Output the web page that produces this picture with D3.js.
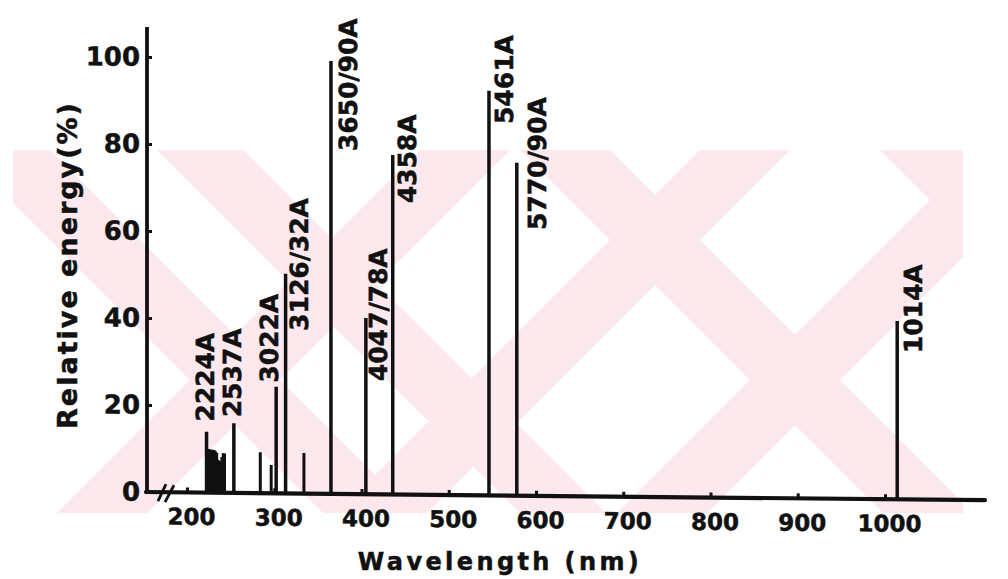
<!DOCTYPE html>
<html>
<head>
<meta charset="utf-8">
<script src="https://cdn.jsdelivr.net/npm/d3@7"></script>
<style>
  html, body { margin: 0; padding: 0; background: #ffffff; }
  svg { display: block; }
  text { font-family: "DejaVu Sans", sans-serif; font-weight: bold; fill: #111; stroke: #111; stroke-width: 0.5px; }
</style>
</head>
<body>
<svg id="chart" width="1008" height="579"></svg>
<script>
// Mercury lamp emission spectrum: labelled lines (wavelength in nm, relative energy in %)
const lineLabels      = ["2224A", "2537A", "3022A", "3126/32A", "3650/90A", "4047/78A", "4358A", "5461A", "5770/90A", "1014A"];
const lineWavelengths = [222.4, 253.7, 302.2, 313.0, 365.0, 405.0, 435.8, 546.1, 578.0, 1014.0];
const lineEnergies    = [14, 16, 24.5, 50.5, 99.5, 40.5, 78, 93, 76.5, 41];

// weaker, unlabelled lines (the dense group after 2224A and a few isolated ones)
const minorWavelengths = [225, 226.5, 228, 229.5, 231, 232.5, 234, 235.5, 237, 238.5, 240, 241.5, 243, 284, 296.5, 334];
const minorEnergies    = [10, 9.8, 9.9, 9.6, 9.8, 9.5, 9.2, 7.6, 7.3, 7.2, 8.2, 9.1, 9.0, 9.4, 6.5, 9.3];

// axis ticks
const xTickValues = [200, 300, 400, 500, 600, 700, 800, 900, 1000];
const yTickValues = [0, 20, 40, 60, 80, 100];

// label placement next to each line top: [dx, dy] in px (dy measured from the top of the line, text runs upward)
const labelPlacement = {
  "2224A": [-2, -10], "2537A": [-2, -6], "3022A": [-7, -4], "3126/32A": [13, 57],
  "3650/90A": [17, 90], "4047/78A": [12, 63], "4358A": [14, 48], "5461A": [15, 33],
  "5770/90A": [20, 67], "1014A": [16, 32]
};

const svg = d3.select("#chart");
const ink = "#111111";

// faint background pattern
const wm = svg.append("g").attr("fill", "#fde9ed");
const band = (x0, y0, x1, y1, w) =>
  `M${x0},${y0} L${x0 + w},${y0} L${x1 + w},${y1} L${x1},${y1} Z`;
svg.append("clipPath").attr("id", "wmclip")
  .append("rect").attr("x", 13).attr("y", 150).attr("width", 950).attr("height", 363);
wm.attr("clip-path", "url(#wmclip)");
[
  band(-40, 150, 323, 513, 90), band(157, 150, 520, 513, 86),
  band(420, 150, 57, 513, 90), band(520, 150, 883, 513, 90),
  band(700, 150, 337, 513, 90), band(880, 150, 1243, 513, 90),
  band(980, 150, 617, 513, 90)
].forEach(d => wm.append("path").attr("d", d));

// scales
const x = d3.scaleLinear().domain([200, 1000]).range([187, 885]);
const y = d3.scaleLinear().domain([0, 100]).range([492, 57]);
const x0 = 147;

// whole plot sits on a very slightly tilted baseline
const g = svg.append("g")
  .attr("transform", `translate(${x0},0) skewY(0.56) translate(${-x0},0)`);

// minor lines
g.append("g").selectAll("line").data(minorWavelengths).join("line")
  .attr("x1", d => x(d)).attr("x2", d => x(d))
  .attr("y1", y(0)).attr("y2", (d, i) => y(minorEnergies[i]))
  .attr("stroke", ink).attr("stroke-width", 3);

// labelled lines
g.append("g").selectAll("line").data(lineWavelengths).join("line")
  .attr("x1", d => x(d)).attr("x2", d => x(d))
  .attr("y1", y(0)).attr("y2", (d, i) => y(lineEnergies[i]))
  .attr("stroke", ink).attr("stroke-width", 3.5);

// line labels, rotated to read upward
g.append("g").selectAll("text").data(lineLabels).join("text")
  .attr("transform", (d, i) => {
    const [dx, dy] = labelPlacement[d];
    return `translate(${x(lineWavelengths[i]) + dx},${y(lineEnergies[i]) + dy}) rotate(-90)`;
  })
  .attr("dy", "0.36em")
  .attr("text-anchor", "start")
  .style("font-size", "25px")
  .text(d => d);

// y axis: ticks point inward, labels on the left
const yAxis = d3.axisLeft(y).tickValues(yTickValues).tickSizeInner(-5).tickSizeOuter(0).tickPadding(7);
const yg = g.append("g").attr("transform", `translate(${x0},0)`).call(yAxis);
yg.select(".domain").remove();
yg.selectAll(".tick line").attr("stroke", ink).attr("stroke-width", 3);
yg.selectAll(".tick text").attr("fill", ink).style("font-size", "26px")
  .style("font-family", "'DejaVu Sans', sans-serif").style("font-weight", "bold");

// x axis: ticks point up into the plot
const xAxis = d3.axisBottom(x).tickValues(xTickValues).tickFormat(d3.format("d"))
  .tickSizeInner(-5).tickSizeOuter(0).tickPadding(16);
const xg = g.append("g").attr("transform", `translate(0,${y(0)})`).call(xAxis);
xg.select(".domain").remove();
xg.selectAll(".tick line").attr("stroke", ink).attr("stroke-width", 3);
xg.selectAll(".tick text").attr("fill", ink).attr("x", 4).style("font-size", "23px")
  .style("font-family", "'DejaVu Sans', sans-serif").style("font-weight", "bold");

// axis lines
g.append("line").attr("x1", x0).attr("x2", x0).attr("y1", 27).attr("y2", y(0) + 2)
  .attr("stroke", ink).attr("stroke-width", 3.8);
g.append("line").attr("x1", x0 - 1).attr("x2", 985).attr("y1", y(0)).attr("y2", y(0))
  .attr("stroke", ink).attr("stroke-width", 4.2).attr("stroke-linecap", "round");

// axis break mark
g.append("path")
  .attr("d", `M${x0 + 11},${y(0) + 9} L${x0 + 19},${y(0) - 8} M${x0 + 18},${y(0) + 10} L${x0 + 27},${y(0) - 7}`)
  .attr("stroke", ink).attr("stroke-width", 2.8).attr("fill", "none");

// axis titles
svg.append("text")
  .attr("x", 500).attr("y", 570)
  .attr("text-anchor", "middle")
  .style("font-size", "24px").style("letter-spacing", "3.4px")
  .text("Wavelength (nm)");

svg.append("text")
  .attr("transform", "translate(77,265) rotate(-90)")
  .attr("text-anchor", "middle")
  .style("font-size", "27px").style("letter-spacing", "2px")
  .text("Relative energy(%)");
</script>
</body>
</html>
